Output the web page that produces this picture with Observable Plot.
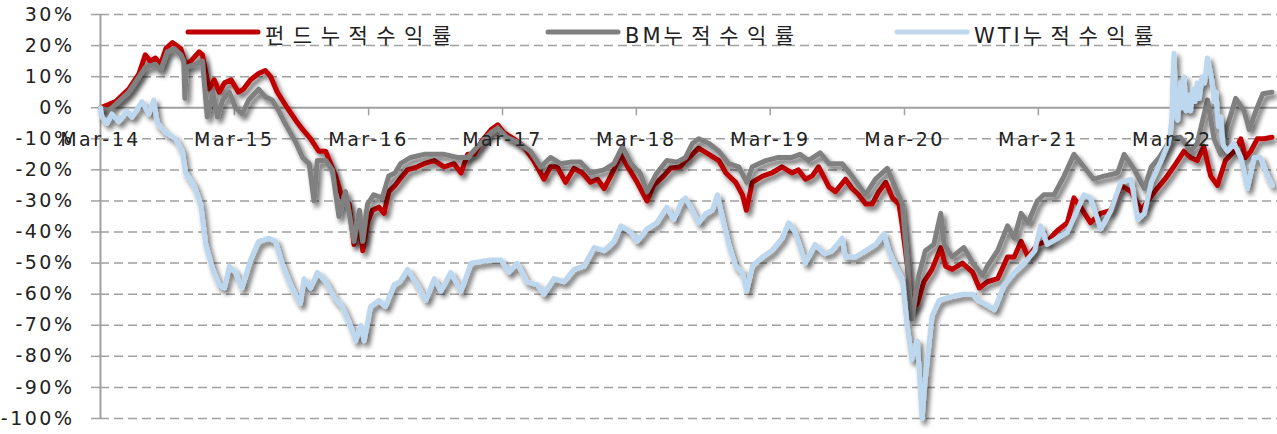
<!DOCTYPE html>
<html>
<head>
<meta charset="utf-8">
<script src="https://cdn.jsdelivr.net/npm/d3@7"></script>
<script src="https://cdn.jsdelivr.net/npm/@observablehq/plot@0.6"></script>
<style>
  html, body { margin: 0; padding: 0; background: #fff; }
  #chart { position: relative; width: 1277px; height: 434px; overflow: hidden; }
  #chart svg text { letter-spacing: 2.5px; }
  #chart svg .legend text tspan.lat { letter-spacing: 3px; }
  #chart svg .legend text tspan.kor { letter-spacing: 8.5px; }
</style>
</head>
<body>
<div id="chart"></div>
<script>
// ---- Data (cumulative returns, %) ----
const fundDates = ["2014-03-01","2014-04-11","2014-05-17","2014-06-14","2014-07-01","2014-07-15","2014-07-29","2014-08-12","2014-08-26","2014-09-13","2014-10-06","2014-10-19","2014-11-02","2014-11-25","2014-12-04","2014-12-22","2015-01-05","2015-01-19","2015-02-02","2015-02-20","2015-03-12","2015-03-26","2015-04-14","2015-05-06","2015-05-24","2015-06-08","2015-06-26","2015-07-23","2015-08-15","2015-09-03","2015-09-25","2015-10-17","2015-11-05","2015-12-02","2015-12-20","2016-01-08","2016-01-21","2016-02-05","2016-02-14","2016-02-27","2016-03-11","2016-03-29","2016-04-12","2016-04-25","2016-05-12","2016-05-25","2016-06-15","2016-07-12","2016-07-30","2016-08-27","2016-09-23","2016-10-20","2016-11-08","2016-11-26","2016-12-14","2017-01-02","2017-01-29","2017-02-16","2017-03-04","2017-04-01","2017-04-28","2017-05-25","2017-06-22","2017-07-10","2017-07-28","2017-08-20","2017-09-12","2017-10-05","2017-10-27","2017-11-15","2017-12-03","2017-12-21","2018-01-18","2018-02-05","2018-03-03","2018-03-30","2018-04-17","2018-05-14","2018-06-02","2018-06-29","2018-07-13","2018-08-01","2018-08-18","2018-09-15","2018-10-12","2018-10-31","2018-11-27","2018-12-15","2018-12-26","2019-01-11","2019-02-08","2019-03-05","2019-04-02","2019-04-29","2019-05-17","2019-06-05","2019-06-23","2019-07-11","2019-08-08","2019-08-26","2019-09-22","2019-10-10","2019-10-28","2019-11-16","2019-12-04","2019-12-22","2020-01-10","2020-01-28","2020-02-15","2020-02-24","2020-03-08","2020-03-21","2020-04-05","2020-04-23","2020-05-15","2020-06-08","2020-06-21","2020-07-09","2020-08-06","2020-09-03","2020-09-21","2020-10-13","2020-11-10","2020-12-07","2020-12-25","2021-01-13","2021-02-01","2021-02-26","2021-03-25","2021-04-22","2021-05-19","2021-06-06","2021-06-24","2021-07-21","2021-08-18","2021-09-15","2021-10-12","2021-11-09","2021-12-06","2021-12-24","2022-01-12","2022-02-09","2022-03-05","2022-04-02","2022-04-20","2022-05-08","2022-05-26","2022-06-14","2022-07-02","2022-07-24","2022-08-17","2022-09-04","2022-09-17","2022-10-01","2022-10-19","2022-11-07","2022-11-28"];
const fundValues = [0,2,6,11,17,15,16,14,19,21,19,14,15,18,17,6,9,5,8,9,5,6,9,11,12,10,5,0,-4,-7,-10,-14,-14,-22,-29,-31,-44,-37,-46,-37,-33,-32,-34,-27,-25,-23,-20,-19,-18,-17,-19,-18,-21,-15,-15,-11,-7,-5.5,-8,-10,-12.5,-17,-23,-19,-19,-24,-19.5,-21,-24,-23,-26,-22,-15,-19,-24,-30,-25,-22,-19.5,-19,-17,-15,-13,-15,-17,-21,-24,-28,-33,-24,-22,-21,-19,-21,-20,-23,-22,-19,-25.5,-27,-23,-26,-28,-31,-31,-27,-24,-29,-31,-38,-50,-65,-63,-56,-52,-45,-51,-52,-50,-53,-58,-56,-55,-48,-48,-43,-48,-44,-43,-39.5,-37,-29,-32,-37,-34,-33,-25,-27,-33,-30,-27,-23,-19,-14,-16,-17,-12.5,-22,-25,-17,-14,-10,-16,-14,-10,-10,-9.5];

const bmDates = ["2014-03-01","2014-03-23","2014-05-17","2014-07-01","2014-07-29","2014-08-12","2014-08-30","2014-09-18","2014-10-06","2014-10-14","2014-10-17","2014-10-21","2014-11-16","2014-12-04","2014-12-17","2015-01-01","2015-01-14","2015-01-28","2015-02-15","2015-03-04","2015-03-22","2015-04-09","2015-05-06","2015-05-24","2015-06-12","2015-06-30","2015-07-17","2015-08-15","2015-09-03","2015-09-21","2015-10-04","2015-10-13","2015-11-05","2015-11-23","2015-12-11","2015-12-29","2016-01-21","2016-02-05","2016-02-14","2016-02-27","2016-03-15","2016-04-07","2016-04-25","2016-05-12","2016-05-27","2016-06-24","2016-07-30","2016-08-27","2016-09-23","2016-10-29","2016-11-26","2016-12-23","2017-01-29","2017-02-16","2017-03-13","2017-04-10","2017-05-16","2017-06-13","2017-07-10","2017-08-06","2017-09-03","2017-09-30","2017-10-27","2017-12-03","2017-12-30","2018-01-22","2018-02-14","2018-03-11","2018-03-30","2018-04-26","2018-05-23","2018-06-20","2018-07-13","2018-08-01","2018-08-18","2018-09-15","2018-10-12","2018-11-08","2018-12-05","2018-12-27","2019-01-11","2019-02-17","2019-03-23","2019-04-29","2019-05-21","2019-06-13","2019-07-15","2019-08-08","2019-09-13","2019-10-10","2019-11-16","2019-12-13","2020-01-14","2020-02-06","2020-02-24","2020-03-08","2020-03-21","2020-04-09","2020-04-27","2020-05-20","2020-06-08","2020-06-17","2020-07-09","2020-08-10","2020-09-03","2020-09-30","2020-10-13","2020-11-10","2020-12-07","2020-12-25","2021-01-13","2021-02-01","2021-02-26","2021-03-16","2021-04-13","2021-05-10","2021-06-06","2021-07-03","2021-07-30","2021-08-27","2021-10-03","2021-10-21","2021-11-18","2021-12-15","2022-01-03","2022-01-25","2022-02-26","2022-03-23","2022-04-20","2022-05-08","2022-06-05","2022-06-23","2022-07-11","2022-07-29","2022-08-21","2022-09-13","2022-09-27","2022-10-15","2022-11-03","2022-11-28"];
const bmValues = [0,-1,5,13,14,12,18,19,17,15,3,13,14,15,-3,5,-3,2.5,5,0,-2,2.5,6,3.5,2.5,-1,-5,-11,-16,-18,-30,-17,-17,-20,-35,-27,-43,-33,-43,-31,-28,-29,-22,-21,-18,-16,-15,-15,-15,-16,-16,-12.5,-8,-6.5,-9.5,-11,-14,-19,-16,-18,-17.5,-17.5,-21,-20,-18,-12.5,-18,-21,-27,-21,-17,-17.5,-16,-11.5,-10,-11.5,-14,-18,-19,-24,-19,-17,-16,-16,-15,-17,-14.5,-18,-18,-22,-28,-23,-19.5,-26,-31,-49,-68,-54,-46,-44,-34,-44,-48,-45,-50,-54,-51,-46,-38,-42,-34,-37,-30,-28,-28,-22,-15,-19,-23,-22,-21,-15,-20,-26,-19,-16,-10,-9.5,-14,-11.5,2.5,-10,-15,-6,3,-1,-7,-1,4.5,5];

const wtiDates = ["2014-03-01","2014-03-05","2014-03-19","2014-04-01","2014-04-20","2014-05-12","2014-05-26","2014-06-22","2014-07-11","2014-07-24","2014-08-03","2014-08-26","2014-09-22","2014-10-10","2014-10-19","2014-11-11","2014-11-29","2014-12-13","2015-01-01","2015-01-19","2015-02-02","2015-02-15","2015-03-04","2015-03-22","2015-04-14","2015-05-06","2015-06-03","2015-06-21","2015-07-09","2015-08-05","2015-08-28","2015-09-07","2015-09-25","2015-10-13","2015-11-05","2015-11-28","2015-12-20","2016-01-08","2016-01-26","2016-02-09","2016-02-18","2016-03-06","2016-03-29","2016-04-16","2016-05-09","2016-05-25","2016-06-15","2016-07-12","2016-08-04","2016-08-27","2016-09-14","2016-10-11","2016-11-08","2016-12-05","2017-01-02","2017-01-29","2017-02-25","2017-03-18","2017-04-10","2017-05-07","2017-06-04","2017-06-22","2017-07-19","2017-08-16","2017-09-12","2017-10-09","2017-11-06","2017-12-03","2017-12-30","2018-01-18","2018-02-14","2018-03-03","2018-03-30","2018-04-26","2018-05-23","2018-06-11","2018-07-03","2018-07-13","2018-08-01","2018-08-18","2018-09-06","2018-09-24","2018-10-08","2018-10-21","2018-11-08","2018-11-27","2018-12-15","2018-12-27","2019-01-11","2019-02-08","2019-03-05","2019-04-02","2019-04-20","2019-05-08","2019-06-05","2019-07-01","2019-07-28","2019-08-16","2019-09-13","2019-09-22","2019-10-19","2019-11-16","2019-12-13","2020-01-05","2020-01-18","2020-02-06","2020-02-24","2020-03-08","2020-03-21","2020-04-05","2020-04-18","2020-04-27","2020-05-15","2020-06-03","2020-06-29","2020-08-06","2020-09-03","2020-09-17","2020-10-05","2020-11-01","2020-11-28","2020-12-25","2021-01-22","2021-02-19","2021-03-07","2021-03-25","2021-04-22","2021-05-19","2021-06-15","2021-07-03","2021-07-21","2021-08-18","2021-09-15","2021-10-12","2021-11-09","2021-11-27","2021-12-15","2022-01-03","2022-01-30","2022-02-18","2022-02-24","2022-02-28","2022-03-03","2022-03-06","2022-03-09","2022-03-12","2022-03-16","2022-03-20","2022-03-24","2022-03-28","2022-04-02","2022-04-08","2022-04-14","2022-04-20","2022-04-26","2022-05-02","2022-05-08","2022-05-14","2022-05-21","2022-05-28","2022-06-05","2022-06-12","2022-06-18","2022-06-23","2022-06-28","2022-07-05","2022-07-11","2022-07-18","2022-07-29","2022-08-17","2022-09-04","2022-09-22","2022-10-10","2022-10-28","2022-11-16","2022-11-29"];
const wtiValues = [0,-3,-5,-2,-4.5,-1,-3,2,-2,2.5,-5,-8,-10,-14,-21,-25,-31,-44,-52,-57,-58,-51,-53,-58,-49,-43,-42,-43,-50,-58,-63,-55,-58,-53,-56,-61,-64,-69,-75,-70,-75,-64,-62,-64,-57,-56,-52,-57,-62,-55,-59,-53,-59,-50,-49.5,-49,-49,-53,-50,-56,-57,-60,-55,-56,-52,-51,-45,-46,-43,-38,-40,-43,-39,-37,-32,-36,-30,-29,-33,-37,-34,-33,-28,-35,-44,-51,-53,-59,-51,-48,-46,-42,-37,-40,-50,-44,-47,-46,-42,-48,-48,-46,-44,-40.5,-46,-51,-55,-70,-81,-75,-100,-87,-67,-62,-61,-60,-60,-62,-63,-65,-57,-53,-50,-46,-38,-44,-42,-40,-33,-28,-29,-39,-33,-24,-23,-36,-34,-24,-17,-11.5,-8,-3,10,17.5,5,-2,-4,3,8,0,10,-1,4,-1,6,2,8,3,10,8,16,12,8,2,5,-6,-3,-12,-14,-11.5,-16,-26,-16,-16,-22,-25];

const seriesNames = ["펀드누적수익률", "BM누적수익률", "WTI누적수익률"];
const seriesColors = ["#c00000", "#808080", "#bdd7ee"];

const yTicks = [30, 20, 10, 0, -10, -20, -30, -40, -50, -60, -70, -80, -90, -100];
const xTickDates = ["2014-03-01","2015-03-01","2016-03-01","2017-03-01","2018-03-01","2019-03-01","2020-03-01","2021-03-01","2022-03-01"];
const xTickLabels = ["Mar-14","Mar-15","Mar-16","Mar-17","Mar-18","Mar-19","Mar-20","Mar-21","Mar-22"];
const xDomain = ["2014-03-01", "2022-12-13"];

// ---- Build tables ----
const toRows = (dates, vals) => dates.map((d, i) => ({date: new Date(d), v: vals[i]}));
const fund = toRows(fundDates, fundValues);
const bm = toRows(bmDates, bmValues);
const wti = toRows(wtiDates, wtiValues);
const xTicks = xTickDates.map((d, i) => ({date: new Date(d), label: xTickLabels[i]}));
const domainX = xDomain.map(d => new Date(d));

const axisGray = "#a0a0a0";
const textColor = "#222";
const fontStack = "'DejaVu Sans', 'Noto Sans CJK KR', sans-serif";
const lineWidth = 5;

const chart = Plot.plot({
  width: 1277,
  height: 434,
  marginLeft: 100,
  marginRight: 0,
  marginTop: 14,
  marginBottom: 16,
  style: {fontFamily: fontStack, fontSize: "19px", color: textColor, background: "#fff"},
  x: {type: "utc", domain: domainX, axis: null},
  y: {domain: [-100, 30], axis: null},
  marks: [
    Plot.gridY(yTicks.filter(d => d !== 0), {stroke: axisGray, strokeOpacity: 1, strokeWidth: 1.5, strokeDasharray: "9,5"}),
    Plot.axisY(yTicks, {tickSize: 9, tickPadding: 17, tickFormat: d => d + "%", stroke: axisGray, strokeWidth: 1.5, color: textColor, label: null, fontSize: 19}),
    Plot.ruleY([0], {stroke: axisGray, strokeWidth: 2}),
    Plot.ruleX([domainX[0]], {stroke: axisGray, strokeWidth: 2}),
    Plot.ruleX(xTicks, {x: "date", y1: 0, y2: -2.6, stroke: axisGray, strokeWidth: 1.5}),
    Plot.line(fund, {x: "date", y: "v", stroke: seriesColors[0], strokeWidth: lineWidth, strokeLinejoin: "round", strokeLinecap: "round"}),
    Plot.line(bm, {x: "date", y: "v", stroke: seriesColors[1], strokeWidth: lineWidth, strokeLinejoin: "round", strokeLinecap: "round"}),
    Plot.line(wti, {x: "date", y: "v", stroke: seriesColors[2], strokeWidth: lineWidth, strokeLinejoin: "round", strokeLinecap: "round"}),
    Plot.text(xTicks, {x: "date", y: 0, text: "label", dy: 32, fontSize: 19, fill: textColor})
  ]
});

document.getElementById("chart").appendChild(chart);

const svg = d3.select(chart);

// ---- Drop shadow under the series lines ----
const defs = svg.insert("defs", ":first-child");
const filt = defs.append("filter").attr("id", "lineShadow")
  .attr("filterUnits", "userSpaceOnUse")
  .attr("x", 0).attr("y", 0).attr("width", 1277).attr("height", 434);
filt.append("feGaussianBlur").attr("in", "SourceAlpha").attr("stdDeviation", 2.5).attr("result", "blur");
filt.append("feOffset").attr("in", "blur").attr("dx", 3).attr("dy", 4).attr("result", "off");
filt.append("feComponentTransfer").attr("in", "off").attr("result", "shadow")
  .append("feFuncA").attr("type", "linear").attr("slope", 0.6);
const merge = filt.append("feMerge");
merge.append("feMergeNode").attr("in", "shadow");
merge.append("feMergeNode").attr("in", "SourceGraphic");

svg.selectAll("g, path").filter(function() {
  return seriesColors.includes(this.getAttribute("stroke")) && this.closest(".legend") === null;
}).attr("filter", "url(#lineShadow)");

// ---- Legend drawn inside the plot area ----
const legendX = [188, 548, 897];
const legend = svg.append("g").attr("class", "legend");
seriesNames.forEach((name, i) => {
  const g = legend.append("g").attr("transform", `translate(${legendX[i]},32)`);
  g.append("line").attr("x1", 0).attr("x2", 70).attr("y1", 0).attr("y2", 0)
    .attr("stroke", seriesColors[i]).attr("stroke-width", 5).attr("stroke-linecap", "round");
  const t = g.append("text").attr("x", 77).attr("y", 4).attr("dy", "0.32em")
    .attr("text-anchor", "start")
    .attr("fill", textColor).attr("font-size", 21)
    .attr("font-family", fontStack);
  const parts = name.match(/[A-Za-z]+|[^A-Za-z]+/g);
  parts.forEach(p => {
    t.append("tspan").attr("class", /[A-Za-z]/.test(p) ? "lat" : "kor").text(p);
  });
});
</script>
</body>
</html>
